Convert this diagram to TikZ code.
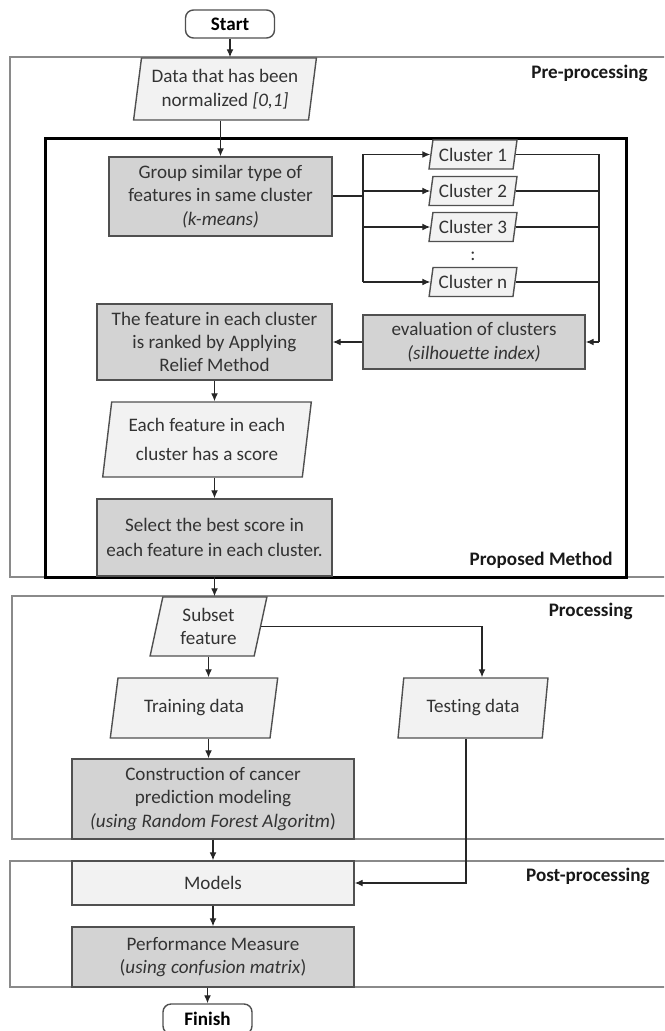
\documentclass[tikz,border=0pt]{standalone}
\usepackage{fontspec}
\setmainfont{Carlito}[Ligatures=NoCommon]
\usetikzlibrary{shapes.geometric,arrows.meta}
\definecolor{boxline}{HTML}{505050}
\definecolor{lightbox}{HTML}{F2F2F2}
\definecolor{darkbox}{HTML}{D3D3D3}
\definecolor{panelline}{HTML}{8A8A8A}
\definecolor{boxtext}{HTML}{333333}

\begin{document}
\begin{tikzpicture}[x=0.5pt,y=-0.5pt]
	% Styles
	\tikzset{
		txt/.style={font=\fontsize{9.55}{11.7}\selectfont, text=boxtext, align=center, inner sep=0pt},
		procbox/.style={txt, rectangle, draw=boxline, line width=0.7pt, fill=darkbox},
		plainbox/.style={procbox, fill=lightbox},
		iobox/.style={txt, trapezium, trapezium stretches=true, draw=boxline, line width=0.7pt, fill=lightbox},
		termbox/.style={txt, rectangle, rounded corners=4pt, draw=boxline, line width=0.7pt, fill=white, font=\fontsize{9.55}{11.7}\selectfont\bfseries, text=black},
		panel/.style={draw=panelline, line width=0.75pt},
		tag/.style={font=\fontsize{9.55}{11.7}\selectfont\bfseries, text=black!90, anchor=east, inner sep=0pt},
		link/.style={draw=black!85, line width=0.6pt},
		flow/.style={link, -{Latex[length=4pt,width=3.4pt]}}
	}
	\useasboundingbox (0,0) rectangle (664,1031);
	\clip (0,0) rectangle (664,1031);

	% Draw the stage panels
	\draw[panel] (10,57) rectangle (680,577);
	\draw[panel] (12,596) rectangle (680,839);
	\draw[panel] (10,861) rectangle (680,987);
	\draw[line width=1.5pt] (45,139) rectangle (626,577);

	\node[tag] (pretag) at (648,73) {Pre-processing};
	\node[tag] (proptag) at (613,560) {Proposed Method};
	\node[tag] (proctag) at (633,611) {Processing};
	\node[tag] (posttag) at (650,876) {Post-processing};

	% Pre-processing
	\node[termbox, minimum width=44.5pt, minimum height=14pt] (start) at (230,24) {Start};
	\node[iobox, trapezium left angle=80, trapezium right angle=100, minimum width=92pt, minimum height=31pt] (data) at (225,89) {Data that has been\\normalized \textit{[0,1]}};

	% Proposed method
	\node[procbox, minimum width=111.5pt, minimum height=39.5pt] (group) at (220.5,196.5) {Group similar type of\\features in same cluster\\\textit{(k-means)}};

	\node[iobox, trapezium left angle=76, trapezium right angle=104, minimum width=44pt, minimum height=14.5pt] (cl1) at (473,154.5) {Cluster 1};
	\node[iobox, trapezium left angle=76, trapezium right angle=104, minimum width=44pt, minimum height=14.5pt] (cl2) at (473,191) {Cluster 2};
	\node[iobox, trapezium left angle=76, trapezium right angle=104, minimum width=44pt, minimum height=14.5pt] (cl3) at (473,227) {Cluster 3};
	\node[txt] (dots) at (473,256) {:};
	\node[iobox, trapezium left angle=76, trapezium right angle=104, minimum width=44pt, minimum height=14.5pt] (cln) at (473,282) {Cluster n};

	\node[procbox, minimum width=111pt, minimum height=27pt] (eval) at (474,342) {evaluation of clusters\\\textit{(silhouette index)}};
	\node[procbox, minimum width=117.5pt, minimum height=38pt] (relief) at (214.5,342) {The feature in each cluster\\is ranked by Applying\\Relief Method};
	\node[iobox, trapezium left angle=80, trapezium right angle=100, minimum width=105pt, minimum height=37.5pt] (each) at (207,439.5) {Each feature in each\\[2.5pt]cluster has a score};
	\node[procbox, minimum width=117.5pt, minimum height=38.5pt] (select) at (214.5,537.5) {Select the best score in\\[1pt]each feature in each cluster.};

	% Processing
	\node[iobox, trapezium left angle=78, trapezium right angle=102, minimum width=58.5pt, minimum height=29.5pt] (subset) at (208.5,626.5) {Subset\\feature};
	\node[iobox, trapezium left angle=73, trapezium right angle=107, minimum width=84pt, minimum height=30pt] (training) at (194,708) {Training data};
	\node[iobox, trapezium left angle=77, trapezium right angle=103, minimum width=75pt, minimum height=30pt] (testing) at (473,708) {Testing data};
	\node[procbox, minimum width=141pt, minimum height=40pt] (construct) at (213,799) {Construction of cancer\\prediction modeling\\\textit{(using Random Forest Algoritm})};

	% Post-processing
	\node[plainbox, minimum width=141pt, minimum height=22pt] (models) at (213,883) {Models};
	\node[procbox, minimum width=141pt, minimum height=30pt] (perf) at (213,957) {Performance Measure\\(\textit{using confusion matrix})};
	\node[termbox, minimum width=44.5pt, minimum height=15pt] (finish) at (207.5,1019) {Finish};

	% Connectors
	\coordinate (split) at (363,196.5);
	\coordinate (merge) at (599,342);

	\draw[flow] (start.south) -- (start.south |- data.north);
	\draw[flow] (group.north |- data.south) -- (group.north);

	\draw[link, line width=1pt] (group.east) -- (split);
	\draw[link] (split |- cl1.west) -- (split |- cln.west);
	\draw[flow] (split |- cl1.west) -- (cl1.west);
	\draw[flow] (split |- cl2.west) -- (cl2.west);
	\draw[flow] (split |- cl3.west) -- (cl3.west);
	\draw[flow] (split |- cln.west) -- (cln.west);

	\draw[link] (cl1.east) -- (merge |- cl1.east);
	\draw[link] (cl2.east) -- (merge |- cl2.east);
	\draw[link] (cl3.east) -- (merge |- cl3.east);
	\draw[link] (cln.east) -- (merge |- cln.east);
	\draw[link] (merge |- cl1.east) -- (merge);
	\draw[flow] (merge) -- (eval.east);
	\draw[flow] (eval.west) -- (relief.east);

	\draw[flow] (relief.south) -- (relief.south |- each.north);
	\draw[flow] (select.north |- each.south) -- (select.north);
	\draw[flow] (select.south) -- (select.south |- subset.north);

	\draw[flow] (subset.south) -- (subset.south |- training.north);
	\draw[flow] (subset.east) -| ([xshift=4.5pt]testing.north);
	\draw[flow] (subset.south |- training.south) -- (subset.south |- construct.north);
	\draw[flow] (construct.south) -- (models.north);
	\draw[flow] ([xshift=-3.5pt]testing.south) |- (models.east);
	\draw[flow] (models.south) -- (perf.north);
	\draw[flow] (finish.north |- perf.south) -- (finish.north);
\end{tikzpicture}
\end{document}
